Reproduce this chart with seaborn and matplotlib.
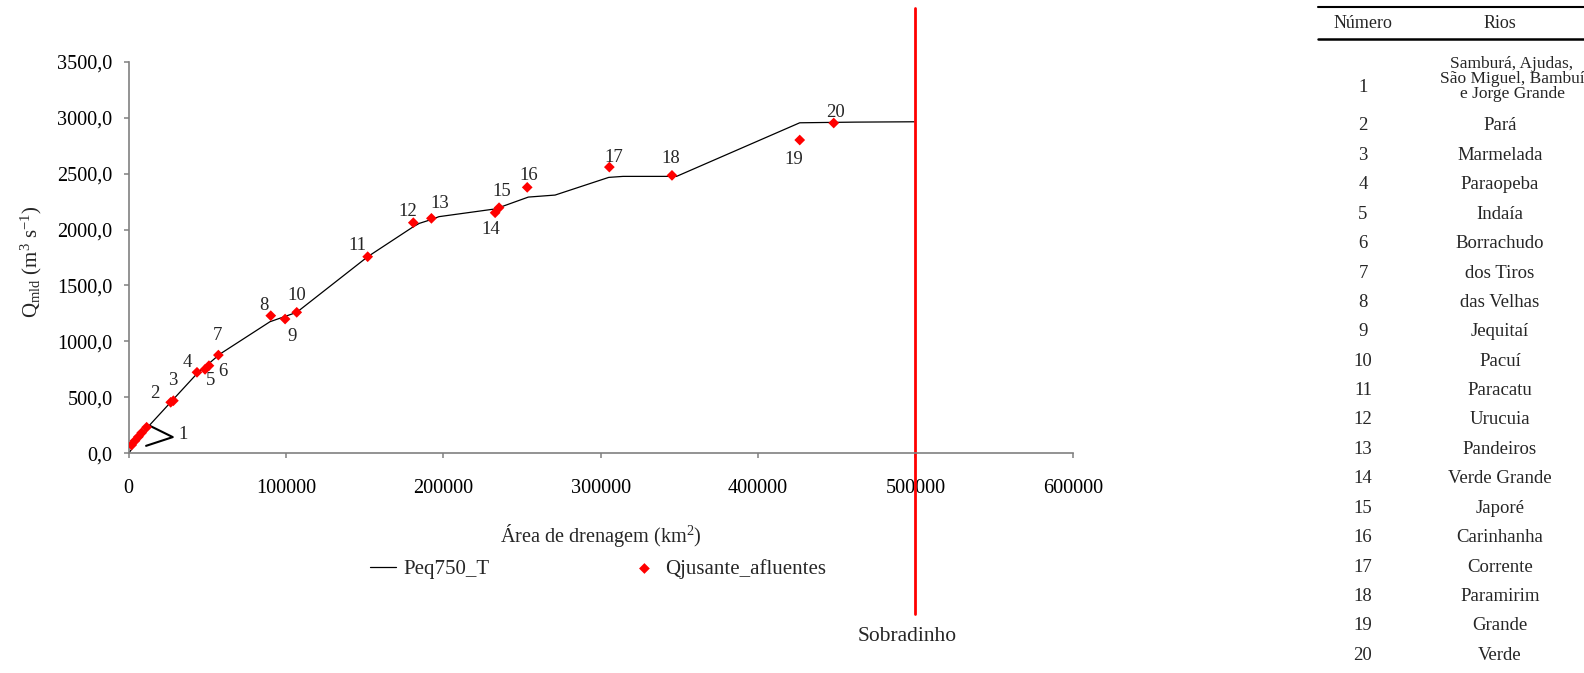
import matplotlib
matplotlib.use("Agg")
import matplotlib.pyplot as plt
import matplotlib.transforms as mtransforms
from matplotlib.lines import Line2D
from matplotlib.ticker import FuncFormatter, MultipleLocator
import seaborn as sns

# curve Peq750_T (area km2, flow m3/s)
area_line = [0, 11800, 43200, 58000, 89800, 106800, 151900, 180900, 184700, 192700,
             197200, 232400, 237000, 254000, 271000, 305100, 314200, 348200,
             426500, 461700, 499200]
q_line = [0, 229, 709, 887, 1176, 1260, 1757, 2025, 2055, 2091,
          2115, 2183, 2204, 2290, 2308, 2466, 2475, 2475,
          2954, 2960, 2963]

# headwater tributaries grouped as number 1
area_src = [1900, 4000, 6200, 8300, 11400]
q_src = [74, 112, 148, 184, 233]

# tributaries 2..20
num_trib = list(range(2, 21))
area_trib = [26700, 28400, 43400, 48500, 51000, 57000, 90300, 99400, 106800, 151900,
             180900, 192400, 232900, 235400, 253300, 305500, 345300, 426500, 448100]
q_trib = [456, 470, 724, 750, 783, 878, 1230, 1200, 1260, 1757,
          2061, 2100, 2150, 2195, 2377, 2558, 2484, 2800, 2952]

rios = ["Samburá, Ajudas,\nSão Miguel, Bambuí\ne Jorge Grande", "Pará", "Marmelada",
        "Paraopeba", "Indaía", "Borrachudo", "dos Tiros", "das Velhas", "Jequitaí",
        "Pacuí", "Paracatu", "Urucuia", "Pandeiros", "Verde Grande", "Japoré",
        "Carinhanha", "Corrente", "Paramirim", "Grande", "Verde"]

sobradinho_area = 500000

# label offsets in pixels (right, down) from each point
label_off = [(-16, -9), (-1, -20), (-10, -10), (6, 11), (14, 6), (-1, -20), (-7, -10),
             (7, 17), (0, -17), (-10, -11), (-6, -11), (8, -15), (-4, 17), (2.5, -16),
             (1, -12), (4.6, -10), (-1.4, -17), (-6, 19), (2, -11)]

sns.set_style("ticks")
plt.rcParams["font.family"] = ["Liberation Serif", "DejaVu Serif"]
plt.rcParams["mathtext.fontset"] = "custom"
plt.rcParams["mathtext.rm"] = "Liberation Serif"
plt.rcParams["mathtext.it"] = "Liberation Serif:italic"

W, H = 1584, 673
fig = plt.figure(figsize=(W / 100, H / 100), dpi=100)
ax = fig.add_axes([128.7 / W, 1 - 453.3 / H, 944 / W, 391.6 / H])

sns.lineplot(x=area_line, y=q_line, ax=ax, color="black", lw=0.9, sort=False,
             estimator=None, label="Peq750_T")
sns.scatterplot(x=area_src + area_trib, y=q_src + q_trib, ax=ax, marker="D", s=30,
                color="red", edgecolor="none", label="Qjusante_afluentes", zorder=3)

ax.set_xlim(0, 600000)
ax.set_ylim(0, 3500)
ax.xaxis.set_major_locator(MultipleLocator(100000))
ax.yaxis.set_major_locator(MultipleLocator(500))
ax.xaxis.set_major_formatter(FuncFormatter(lambda v, p: f"{int(v)}"))
ax.yaxis.set_major_formatter(FuncFormatter(lambda v, p: f"{v:.1f}".replace(".", ",")))
sns.despine(ax=ax)
for s in ["left", "bottom"]:
    ax.spines[s].set_color("#808080")
    ax.spines[s].set_linewidth(1.2)
ax.tick_params(axis="both", colors="#808080", labelcolor="black", length=3.6,
               width=1.1, labelsize=14.6)
ax.tick_params(axis="x", pad=15)
ax.tick_params(axis="y", pad=8)

ax.set_xlabel("Área de drenagem (km$^{2}$)", fontsize=14.6)
ax.xaxis.set_label_coords(0.5, -0.175)
ax.set_ylabel(r"Q$_{\rm mld}$ (m$^{3}$ s$^{-1}$)", fontsize=15)
ax.yaxis.set_label_coords(-0.09, 0.49)

# number labels
for n, x, y, (dx, dy) in zip(num_trib, area_trib, q_trib, label_off):
    ax.annotate(str(n), (x, y), xytext=(dx * 0.72, -dy * 0.72), textcoords="offset points",
                ha="center", va="center", fontsize=13.5)

# bracket for group 1
ax.figure.canvas.draw()
ox, oy = ax.transData.transform((area_src[-1], q_src[-1]))
br_tr = mtransforms.Affine2D().scale(fig.dpi / 72).translate(ox, oy)
ax.add_line(Line2D([2.4, 18.8, -0.4], [1.0, -7.1, -13.4], transform=br_tr,
                   color="black", lw=1.5, clip_on=False))
ax.annotate("1", (area_src[-1], q_src[-1]), xytext=(26, -5.5), textcoords="offset points",
            ha="center", va="center", fontsize=13.5)

# Sobradinho reference line
ax.axvline(sobradinho_area, ymin=-0.41, ymax=1.137, color="red", lw=2, clip_on=False)
ax.annotate("Sobradinho", (sobradinho_area, -0.468), xycoords=ax.get_xaxis_transform(),
            xytext=(-6, 0), textcoords="offset points", ha="center", va="center",
            fontsize=15.5, annotation_clip=False)

handles, labels = ax.get_legend_handles_labels()
ax.get_legend().remove()
fig.legend(handles, labels, loc="center", bbox_to_anchor=(598 / W, 1 - 569 / H), ncol=2,
           frameon=False, handlelength=1.25, handletextpad=0.35, columnspacing=6.8,
           fontsize=15)

# river table
def fx(x):
    return x / W

def fy(y):
    return 1 - y / H

fig.add_artist(Line2D([fx(1318), fx(1584)], [fy(7.3), fy(7.3)], transform=fig.transFigure,
                      color="black", lw=1.5))
fig.add_artist(Line2D([fx(1318), fx(1584)], [fy(39.3), fy(39.3)], transform=fig.transFigure,
                      color="black", lw=1.8))
fig.text(fx(1363), fy(24), "Número", ha="center", va="center", fontsize=13)
fig.text(fx(1500), fy(24), "Rios", ha="center", va="center", fontsize=13)
for i, rio in enumerate(rios):
    if i == 0:
        fig.text(fx(1363), fy(88), "1", ha="center", va="center", fontsize=13.5)
        fig.text(fx(1512), fy(79), rio, ha="center", va="center", fontsize=12.5,
                 linespacing=0.95)
    else:
        yy = 126 + (i - 1) * 29.4
        fig.text(fx(1363), fy(yy), str(i + 1), ha="center", va="center", fontsize=13.5)
        fig.text(fx(1500), fy(yy), rio, ha="center", va="center", fontsize=13.5)

fig.savefig("out.png", dpi=100)
